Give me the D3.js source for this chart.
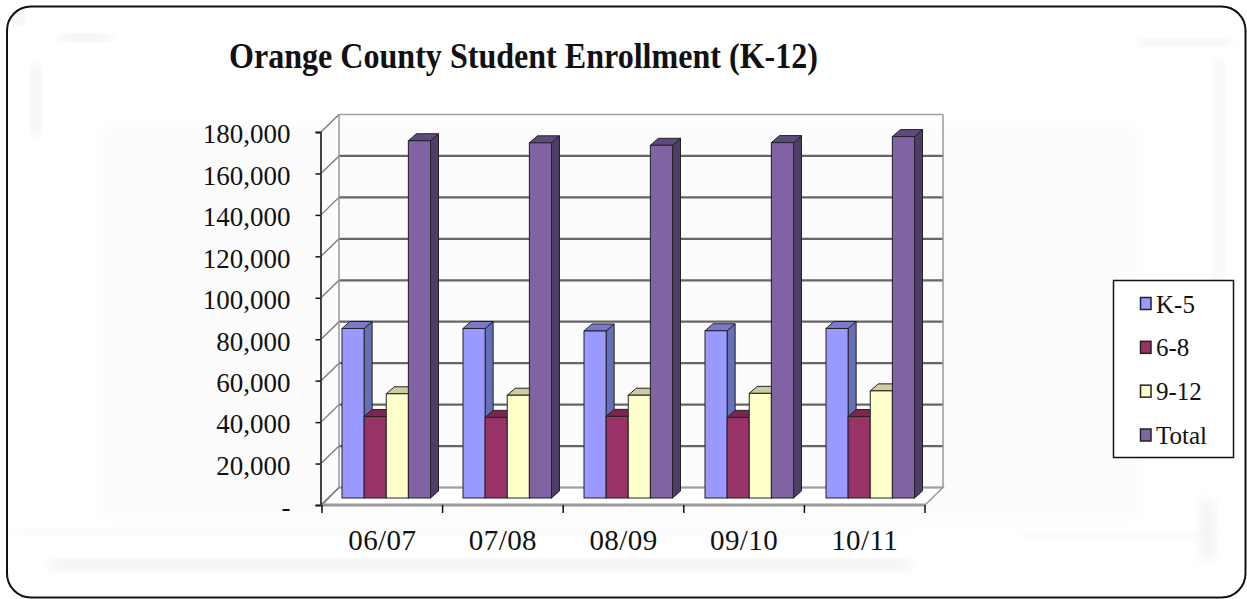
<!DOCTYPE html>
<html><head><meta charset="utf-8">
<script src="https://cdn.jsdelivr.net/npm/d3@7"></script>
<style>html,body{margin:0;padding:0;background:#fff}svg{display:block}text{font-family:"Liberation Serif",serif;fill:#111}</style>
</head><body><svg id="c" width="1247" height="599"></svg>
<script>
const categories = ["06/07","07/08","08/09","09/10","10/11"];
const seriesNames = ["K-5","6-8","9-12","Total"];
const k5 = [81800,81800,80600,80700,81800];
const g68 = [39300,38900,39400,38900,39300];
const g912 = [50300,49600,49600,50500,51700];
const total = [172400,171400,170200,171500,174400];
const seriesValues = [k5,g68,g912,total];
const faceColors = ["#9999ff","#993366","#ffffcc","#8064a2"];
const sideColors = ["#6670b8","#6b2347","#c8c89a","#4f3d68"];
const topColors = ["#7a7acc","#7a2850","#cccca0","#5f4a80"];
const yTicks = [0,20000,40000,60000,80000,100000,120000,140000,160000,180000];
const title = "Orange County Student Enrollment (K-12)";

const svg = d3.select("#c");
const defs = svg.append("defs");
[["b6",6],["b05",0.55]].forEach(([id,s])=>defs.append("filter").attr("id",id).attr("x","-30%").attr("y","-30%").attr("width","160%").attr("height","160%").append("feGaussianBlur").attr("stdDeviation",s));

// blurred picture background
const smudge = svg.append("g");
[[60,35,50,6,"#e8e8e8"],[1140,40,90,5,"#ebebeb"],[32,65,8,70,"#efefef"],[1215,60,8,300,"#f3f3f3"],
 [50,560,860,10,"#efefef"],[15,530,890,5,"#f5f5f5"],[1020,532,200,4,"#f3f3f3"],[100,125,1040,395,"#fcfcfc"],[1200,500,14,60,"#f3f3f3"],[15,15,8,8,"#d8d8d8"]]
 .forEach(d=>smudge.append("rect").attr("x",d[0]).attr("y",d[1]).attr("width",d[2]).attr("height",d[3]).attr("fill",d[4]).attr("filter","url(#b6)"));
svg.append("rect").attr("x",7).attr("y",6.5).attr("width",1238.5).attr("height",591).attr("rx",24).attr("fill","none").attr("stroke","#111").attr("stroke-width",2);

// scales
const frontBase = 505, frontTop = 132, wallDx = 18, wallDy = -17.5;
const y = d3.scaleLinear().domain([0,180000]).range([frontBase,frontTop]);
const x = d3.scaleBand().domain(categories).range([322,925]);
const xBars = d3.scaleBand().domain(categories).range([322,927]);
const plot = svg.append("g").attr("filter","url(#b05)");
const gridC = "#666";
const wall = plot.append("g");
const wallL = 339, wallR = 943;
// floor
wall.append("path").attr("d",`M322,${frontBase}L${wallL},${frontBase+wallDy}L${wallR},${frontBase+wallDy}L925,${frontBase}Z`).attr("fill","#fff").attr("stroke","#999").attr("stroke-width",1.5);
wall.append("line").attr("x1",322).attr("x2",925).attr("y1",frontBase).attr("y2",frontBase).attr("stroke","#999").attr("stroke-width",3);
// back wall & side
wall.selectAll("line.g").data(yTicks).join("line").attr("class","g").attr("x1",wallL).attr("x2",wallR)
  .attr("y1",d=>y(d)+wallDy).attr("y2",d=>y(d)+wallDy)
  .attr("stroke",d=>(d===180000||d===0)?"#a0a0a0":gridC).attr("stroke-width",d=>d===180000?1.5:2.2);
wall.selectAll("line.d").data(yTicks).join("line").attr("class","d").attr("x1",321).attr("x2",wallL)
  .attr("y1",d=>y(d)).attr("y2",d=>y(d)+wallDy).attr("stroke","#777").attr("stroke-width",1.3);
[wallL,wallR].forEach(px=>wall.append("line").attr("x1",px).attr("x2",px).attr("y1",y(180000)+wallDy).attr("y2",y(0)+wallDy).attr("stroke","#999").attr("stroke-width",1.5));

// bars
const barBase = 498, depthX = 8, depthY = -7;
const h = d3.scaleLinear().domain([0,180000]).range([barBase,barBase-(frontBase-frontTop)]);
const inner = d3.scaleBand().domain(d3.range(4)).range([20,108.5]);
const bars = plot.append("g").attr("stroke","#222").attr("stroke-width",1);
categories.forEach((c,ci)=>{
  const g = bars.append("g");
  d3.range(4).forEach(si=>{
    const v = seriesValues[si][ci], x0 = xBars(c)+inner(si), w = inner.bandwidth(), t = h(v);
    g.append("path").attr("d",`M${x0+w},${t}L${x0+w+depthX},${t+depthY}L${x0+w+depthX},${barBase+depthY}L${x0+w},${barBase}Z`).attr("fill",sideColors[si]);
    g.append("path").attr("d",`M${x0},${t}L${x0+depthX},${t+depthY}L${x0+w+depthX},${t+depthY}L${x0+w},${t}Z`).attr("fill",topColors[si]);
    g.append("rect").attr("x",x0).attr("y",t).attr("width",w).attr("height",barBase-t).attr("fill",faceColors[si]);
  });
});

// axes
const yAxis = d3.axisLeft(y).tickValues(yTicks).tickSize(5).tickPadding(25).tickFormat(d=>d===0?"-":d3.format(",")(d));
const gy = svg.append("g").attr("transform","translate(320.5,0)").call(yAxis);
gy.select(".domain").attr("stroke","#444").attr("stroke-width",2);
gy.selectAll("line").attr("stroke","#111").attr("stroke-width",1.5);
gy.selectAll("text").attr("font-size",27).attr("fill","#111").attr("font-family","Liberation Serif").attr("dy","0.4em");
const xAxis = d3.axisBottom(x).tickSize(0).tickFormat(d=>d);
const gx = svg.append("g").attr("transform",`translate(0,${frontBase})`).call(xAxis);
gx.select(".domain").remove();
gx.selectAll("text").attr("font-size",29).attr("fill","#111").attr("font-family","Liberation Serif").attr("y",45).attr("dy",0).attr("letter-spacing",0.4);
svg.append("g").selectAll("line").data(d3.range(6)).join("line")
  .attr("x1",i=>x.range()[0]+i*x.step()).attr("x2",i=>x.range()[0]+i*x.step()).attr("y1",frontBase).attr("y2",frontBase+8).attr("stroke","#111").attr("stroke-width",1.5);

// title
svg.append("text").attr("x",229).attr("y",68).attr("font-size",36).attr("font-weight","bold").attr("textLength",589).attr("lengthAdjust","spacingAndGlyphs").text(title);

// legend
const lg = svg.append("g");
lg.append("rect").attr("x",1113.5).attr("y",280.5).attr("width",120).attr("height",177).attr("fill","#fff").attr("stroke","#111").attr("stroke-width",1.5);
const ly = d3.scalePoint().domain(seriesNames).range([303.5,435]);
seriesNames.forEach((n,i)=>{
  lg.append("rect").attr("x",1140.5).attr("y",ly(n)-6).attr("width",10.5).attr("height",12).attr("fill",faceColors[i]).attr("stroke","#222").attr("stroke-width",1.5);
  lg.append("text").attr("x",1156).attr("y",ly(n)+9).attr("font-size",25).text(n);
});
</script></body></html>
